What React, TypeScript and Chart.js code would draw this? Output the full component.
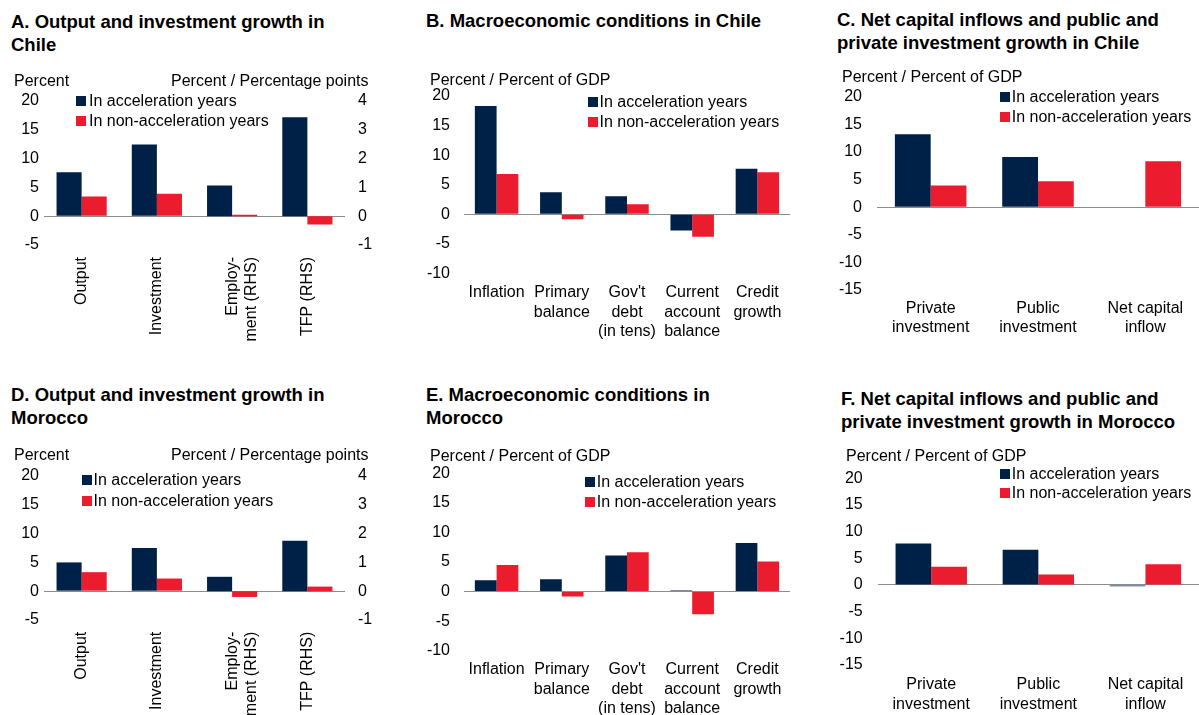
import React, { useEffect, useRef } from 'react';
import { Chart, registerables } from 'chart.js';

Chart.register(...registerables);

// ---------------- Data ----------------
const ACC_LABEL = 'In acceleration years';
const NON_LABEL = 'In non-acceleration years';

// Panels A / D: output and investment growth (LHS: percent), employment & TFP (RHS: percent / percentage points)
const growthCategories: (string | string[])[] = ['Output', 'Investment', ['Employ-', 'ment (RHS)'], 'TFP (RHS)'];
const chileGrowthAccLhs = [7.6, 12.4];
const chileGrowthNonLhs = [3.4, 3.9];
const chileGrowthAccRhs = [1.06, 3.43];
const chileGrowthNonRhs = [0.05, -0.29];
const moroccoGrowthAccLhs = [5.0, 7.5];
const moroccoGrowthNonLhs = [3.3, 2.2];
const moroccoGrowthAccRhs = [0.5, 1.75];
const moroccoGrowthNonRhs = [-0.2, 0.16];

// Panels B / E: macroeconomic conditions
const macroCategories: (string | string[])[] = [
  'Inflation',
  ['Primary', 'balance'],
  ["Gov't", 'debt', '(in tens)'],
  ['Current', 'account', 'balance'],
  ['Credit', 'growth'],
];
const chileMacroAcc = [18.3, 3.7, 3.05, -2.76, 7.7];
const chileMacroNon = [6.8, -0.85, 1.7, -3.8, 7.1];
const moroccoMacroAcc = [1.9, 2.1, 6.1, 0.2, 8.2];
const moroccoMacroNon = [4.5, -0.85, 6.65, -3.85, 5.1];

// Panels C / F: net capital inflows and investment
const capitalCategories: (string | string[])[] = [
  ['Private', 'investment'],
  ['Public', 'investment'],
  ['Net capital', 'inflow'],
];
const chileCapitalAcc = [13.2, 9.1, 0];
const chileCapitalNon = [3.9, 4.7, 8.3];
const moroccoCapitalAcc = [7.8, 6.6, -0.25];
const moroccoCapitalNon = [3.4, 1.95, 3.9];

// Tick ranges
const growthLhsRange = [-5, 20, 5];
const growthRhsRange = [-1, 4, 1];
const macroRange = [-10, 20, 5];
const capitalRange = [-15, 20, 5];

// ---------------- Style ----------------
const NAVY = '#002147';
const RED = '#EB1C2D';
const ZERO_LINE = '#8c8c8c';
const FONT = "'Liberation Sans', Arial, Helvetica, sans-serif";

Chart.defaults.font.family = FONT;
Chart.defaults.font.size = 16;
Chart.defaults.color = '#000';

const nulls = (n: number) => Array(n).fill(null);

function growthDatasets(accL: number[], nonL: number[], accR: number[], nonR: number[]) {
  return [
    { label: ACC_LABEL, data: [...accL, ...nulls(accR.length)], backgroundColor: NAVY, yAxisID: 'y' },
    { label: NON_LABEL, data: [...nonL, ...nulls(nonR.length)], backgroundColor: RED, yAxisID: 'y' },
    { label: ACC_LABEL + ' (RHS)', data: [...nulls(accL.length), ...accR], backgroundColor: NAVY, yAxisID: 'y1' },
    { label: NON_LABEL + ' (RHS)', data: [...nulls(nonL.length), ...nonR], backgroundColor: RED, yAxisID: 'y1' },
  ];
}

function pairDatasets(acc: number[], non: number[]) {
  return [
    { label: ACC_LABEL, data: acc, backgroundColor: NAVY, yAxisID: 'y' },
    { label: NON_LABEL, data: non, backgroundColor: RED, yAxisID: 'y' },
  ];
}

type Spec = {
  id: string;
  canvas: { left: number; top: number; width: number; height: number };
  area: { l: number; r: number; t: number; b: number };
  labels: (string | string[])[];
  rotate: boolean;
  y: number[];
  yPad: number;
  y1?: number[];
  y1Pad?: number;
  xPad: number;
  datasets: any[];
  title: { left: number; top: number; lh: number; lines: string[] };
  units: { text: string; left?: number; right?: number; cy: number }[];
  legend: { sq: number; tx: number; rows: number[] };
};

const specs: Spec[] = [
  {
    id: 'A',
    canvas: { left: 0, top: 60, width: 400, height: 290 },
    area: { l: 44, r: 345, t: 40.7, b: 185 },
    labels: growthCategories,
    rotate: true,
    y: growthLhsRange,
    yPad: 5,
    y1: growthRhsRange,
    y1Pad: 13,
    xPad: 12,
    datasets: growthDatasets(chileGrowthAccLhs, chileGrowthNonLhs, chileGrowthAccRhs, chileGrowthNonRhs),
    title: { left: 11, top: 9.5, lh: 23, lines: ['A. Output and investment growth in', 'Chile'] },
    units: [
      { text: 'Percent', left: 14, cy: 80.7 },
      { text: 'Percent / Percentage points', right: 1199 - 368.5, cy: 80.7 },
    ],
    legend: { sq: 76, tx: 89, rows: [101, 120.5] },
  },
  {
    id: 'B',
    canvas: { left: 400, top: 60, width: 400, height: 290 },
    area: { l: 64, r: 390, t: 36, b: 213.3 },
    labels: macroCategories,
    rotate: false,
    y: macroRange,
    yPad: 14,
    xPad: 10,
    datasets: pairDatasets(chileMacroAcc, chileMacroNon),
    title: { left: 426, top: 9.2, lh: 23, lines: ['B. Macroeconomic conditions in Chile'] },
    units: [{ text: 'Percent / Percent of GDP', left: 430, cy: 80 }],
    legend: { sq: 588, tx: 599.5, rows: [101.7, 121.7] },
  },
  {
    id: 'C',
    canvas: { left: 800, top: 60, width: 399, height: 290 },
    area: { l: 77, r: 399, t: 36.7, b: 230 },
    labels: capitalCategories,
    rotate: false,
    y: capitalRange,
    yPad: 15,
    xPad: 9,
    datasets: pairDatasets(chileCapitalAcc, chileCapitalNon),
    title: { left: 837, top: 9.2, lh: 22.6, lines: ['C. Net capital inflows and public and', 'private investment growth in Chile'] },
    units: [{ text: 'Percent / Percent of GDP', left: 842, cy: 76.7 }],
    legend: { sq: 999.5, tx: 1011.7, rows: [97.3, 116.7] },
  },
  {
    id: 'D',
    canvas: { left: 0, top: 440, width: 400, height: 275 },
    area: { l: 44, r: 345, t: 36, b: 180 },
    labels: growthCategories,
    rotate: true,
    y: growthLhsRange,
    yPad: 5,
    y1: growthRhsRange,
    y1Pad: 13,
    xPad: 11.7,
    datasets: growthDatasets(moroccoGrowthAccLhs, moroccoGrowthNonLhs, moroccoGrowthAccRhs, moroccoGrowthNonRhs),
    title: { left: 11, top: 384.4, lh: 22.6, lines: ['D. Output and investment growth in', 'Morocco'] },
    units: [
      { text: 'Percent', left: 14, cy: 455 },
      { text: 'Percent / Percentage points', right: 1199 - 368.5, cy: 455 },
    ],
    legend: { sq: 82, tx: 93.5, rows: [480, 501] },
  },
  {
    id: 'E',
    canvas: { left: 400, top: 440, width: 400, height: 275 },
    area: { l: 64, r: 390, t: 33.3, b: 210.7 },
    labels: macroCategories,
    rotate: false,
    y: macroRange,
    yPad: 14,
    xPad: 9.7,
    datasets: pairDatasets(moroccoMacroAcc, moroccoMacroNon),
    title: { left: 426, top: 384.4, lh: 22.6, lines: ['E. Macroeconomic conditions in', 'Morocco'] },
    units: [{ text: 'Percent / Percent of GDP', left: 430, cy: 455.7 }],
    legend: { sq: 585, tx: 596.7, rows: [481.7, 501.7] },
  },
  {
    id: 'F',
    canvas: { left: 800, top: 440, width: 399, height: 275 },
    area: { l: 77.7, r: 399, t: 38.3, b: 225 },
    labels: capitalCategories,
    rotate: false,
    y: capitalRange,
    yPad: 15,
    xPad: 10.4,
    datasets: pairDatasets(moroccoCapitalAcc, moroccoCapitalNon),
    title: { left: 841, top: 386.6, lh: 23.4, lines: ['F. Net capital inflows and public and', 'private investment growth in Morocco'] },
    units: [{ text: 'Percent / Percent of GDP', left: 846, cy: 455.7 }],
    legend: { sq: 1000, tx: 1011.7, rows: [474.3, 493.3] },
  },
];

function BarPanel({ spec }: { spec: Spec }) {
  const ref = useRef<HTMLCanvasElement>(null);
  const c = spec.canvas;
  useEffect(() => {
    const area = spec.area;
    const scales: any = {
      x: {
        stacked: false,
        offset: true,
        grid: { display: false, drawTicks: false },
        border: { display: false },
        ticks: {
          autoSkip: false,
          maxRotation: spec.rotate ? 90 : 0,
          minRotation: spec.rotate ? 90 : 0,
          padding: spec.xPad,
          color: '#000',
          font: { size: 16, family: FONT },
        },
        afterFit: (s: any) => {
          s.height = c.height - area.b;
        },
      },
      y: {
        position: 'left',
        min: spec.y[0],
        max: spec.y[1],
        grid: {
          drawTicks: false,
          lineWidth: 1,
          color: (ctx: any) => (ctx.tick && ctx.tick.value === 0 ? ZERO_LINE : 'rgba(0,0,0,0)'),
        },
        border: { display: false },
        ticks: { stepSize: spec.y[2], padding: spec.yPad, color: '#000', font: { size: 16, family: FONT } },
        afterFit: (s: any) => {
          s.width = area.l;
        },
      },
    };
    if (spec.y1) {
      scales.y1 = {
        position: 'right',
        min: spec.y1[0],
        max: spec.y1[1],
        grid: { display: false, drawTicks: false },
        border: { display: false },
        ticks: { stepSize: spec.y1[2], padding: spec.y1Pad, color: '#000', font: { size: 16, family: FONT } },
        afterFit: (s: any) => {
          s.width = c.width - area.r;
        },
      };
    }
    const chart = new Chart(ref.current as HTMLCanvasElement, {
      type: 'bar',
      data: { labels: spec.labels as any, datasets: spec.datasets },
      options: {
        animation: false,
        responsive: false,
        maintainAspectRatio: false,
        devicePixelRatio: 1,
        layout: {
          padding: { top: area.t, left: 0, bottom: 0, right: spec.y1 ? 0 : c.width - area.r },
        },
        plugins: { legend: { display: false }, tooltip: { enabled: false } },
        datasets: {
          bar: { categoryPercentage: 2 / 3, barPercentage: 1, skipNull: true, borderWidth: 0 },
        } as any,
        scales,
      },
    });
    return () => chart.destroy();
  }, [spec]);

  return (
    <canvas
      ref={ref}
      width={c.width}
      height={c.height}
      style={{ position: 'absolute', left: c.left, top: c.top, width: c.width, height: c.height }}
    />
  );
}

function Overlay({ spec }: { spec: Spec }) {
  const txt: React.CSSProperties = {
    position: 'absolute',
    fontSize: 16,
    lineHeight: '20px',
    whiteSpace: 'nowrap',
    color: '#000',
  };
  return (
    <>
      <div
        style={{
          position: 'absolute',
          left: spec.title.left,
          top: spec.title.top,
          fontSize: 18.5,
          fontWeight: 'bold',
          lineHeight: spec.title.lh + 'px',
          whiteSpace: 'nowrap',
          color: '#000',
        }}
      >
        {spec.title.lines.map((l, i) => (
          <div key={i}>{l}</div>
        ))}
      </div>
      {spec.units.map((u, i) => (
        <div
          key={'u' + i}
          style={{
            ...txt,
            top: u.cy - 10,
            ...(u.left !== undefined ? { left: u.left } : { right: u.right, textAlign: 'right' as const }),
          }}
        >
          {u.text}
        </div>
      ))}
      {[ACC_LABEL, NON_LABEL].map((lab, i) => (
        <React.Fragment key={'l' + i}>
          <div
            style={{
              position: 'absolute',
              left: spec.legend.sq,
              top: spec.legend.rows[i] - 5,
              width: 10,
              height: 10,
              background: i === 0 ? NAVY : RED,
            }}
          />
          <div style={{ ...txt, left: spec.legend.tx, top: spec.legend.rows[i] - 10 }}>{lab}</div>
        </React.Fragment>
      ))}
    </>
  );
}

export default function App() {
  return (
    <div
      style={{
        position: 'absolute',
        left: 0,
        top: 0,
        width: 1199,
        height: 715,
        background: '#fff',
        fontFamily: FONT,
        overflow: 'hidden',
      }}
    >
      {specs.map((s) => (
        <BarPanel key={s.id} spec={s} />
      ))}
      {specs.map((s) => (
        <Overlay key={'o' + s.id} spec={s} />
      ))}
    </div>
  );
}
